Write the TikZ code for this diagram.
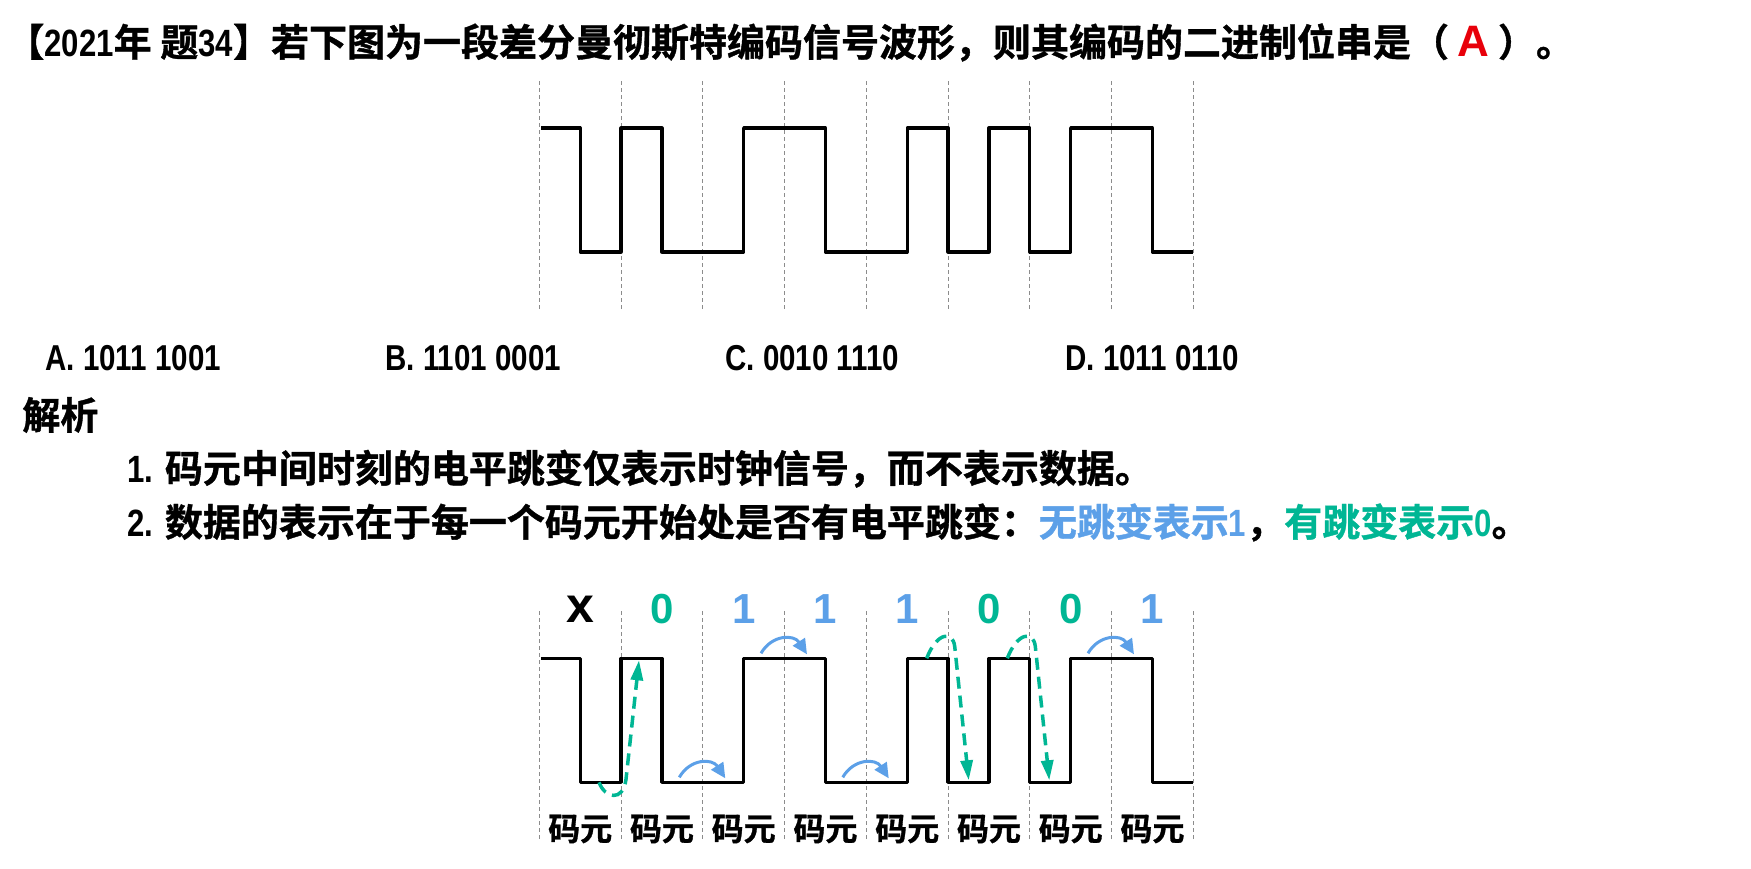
\documentclass[tikz,border=0pt]{standalone}
\usepackage{fontspec}
\setmainfont{Liberation Sans}
\newfontfamily\cjk{Noto Sans CJK SC Bold}[FakeBold=1]
\newfontfamily\lat{Liberation Sans Bold}[FakeStretch=0.82]
\newfontfamily\latw{Liberation Sans Bold}
\usetikzlibrary{arrows.meta}

\definecolor{zeroc}{RGB}{0,182,148}
\definecolor{onec}{RGB}{92,160,232}
\definecolor{ansred}{RGB}{232,0,10}
\definecolor{guidegray}{RGB}{140,140,140}

\tikzset{
  guide/.style = {guidegray, line width=0.5pt, dash pattern=on 2pt off 1.5pt},
  signal/.style = {line width=1.6pt, line join=round},
  wave/.pic = {
    \foreach \i in {0,...,8}
      \draw[guide] (81.75*\i,-47) -- (81.75*\i,184);
    \draw[signal] (2,0) -- (40.875,0) -- (40.875,124) -- (81.75,124) -- (81.75,0)
      -- (122.625,0) -- (122.625,124) -- (204.375,124) -- (204.375,0) -- (286.125,0)
      -- (286.125,124) -- (367.875,124) -- (367.875,0) -- (408.75,0) -- (408.75,124)
      -- (449.625,124) -- (449.625,0) -- (490.5,0) -- (490.5,124) -- (531.375,124)
      -- (531.375,0) -- (613.125,0) -- (613.125,124) -- (654,124);
  }
}

\begin{document}
\begin{tikzpicture}[x=0.5pt, y=-0.5pt,
    txt/.style = {anchor=west, inner sep=0pt, font={\cjk\fontsize{19pt}{22pt}\selectfont}},
    opt/.style = {anchor=west, inner sep=0pt, font={\lat\fontsize{18pt}{22pt}\selectfont}},
    bit/.style = {inner sep=0pt, font={\latw\fontsize{21pt}{24pt}\selectfont}},
    cell/.style = {inner sep=0pt, font={\cjk\fontsize{16pt}{18pt}\selectfont}},
    hop/.style = {onec, line width=1.5pt, -{Triangle[length=7.5pt, width=7pt]}},
    flip/.style = {zeroc, line width=1.75pt, dash pattern=on 6pt off 3.5pt,
                   -{Triangle[length=10pt, width=6pt]}}]
  \useasboundingbox[fill=white] (0,0) rectangle (1751,868);

  % question
  \node[txt] (title) at (6,42.5) {【{\lat 2021}年 题{\lat 34}】若下图为一段差分曼彻斯特编码信号波形，则其编码的二进制位串是（ {\latw\fontsize{22pt}{24pt}\selectfont\color{ansred}A} ）。};
  \pic at (539.3,128) {wave};

  \foreach \lab/\val [count=\k from 0] in {A/1011 1001, B/1101 0001, C/0010 1110, D/1011 0110}
    \node[opt] (opt\lab) at (45+340*\k,358) {\lab. \val};

  % analysis
  \node[txt] (jiexi) at (22,415) {解析};
  \node[txt] (note1) at (127,468.7) {{\lat 1. }码元中间时刻的电平跳变仅表示时钟信号，而不表示数据。};
  \node[txt] (note2) at (127,522.5) {{\lat 2. }数据的表示在于每一个码元开始处是否有电平跳变：{\color{onec}无跳变表示{\lat 1}}，{\color{zeroc}有跳变表示{\lat 0}}。};

  \pic at (539.3,658.3) {wave};
  \foreach \b/\c [count=\k from 0] in {{\fontsize{25pt}{26pt}\selectfont x}/black, 0/zeroc, 1/onec, 1/onec, 1/onec, 0/zeroc, 0/zeroc, 1/onec}
    \node[bit, text=\c] (bit\k) at (580.2+81.75*\k,609) {\b};
  \foreach \k in {0,...,7}
    \node[cell] (cell\k) at (580.2+81.75*\k,829) {码元};

  % no change at the start of the cell
  \foreach \bx/\by in {703.3/782.3, 785/658.3, 866.75/782.3, 1112/658.3}
    \draw[hop, shift={(\bx,\by)}] (-24,-5) .. controls (-13,-24) and (9,-24) .. (22,-4);
  % change at the start of the cell
  \draw[flip, shift={(621,782.3)}] (-22,0) .. controls (-16,16) and (2,20) .. (5,-3) -- (18,-122);
  \foreach \bx in {948.7, 1029.3}
    \draw[flip, shift={(\bx,658.3)}] (-22,0) .. controls (-12,-26) and (4,-28) .. (6,-12) -- (20,122);
\end{tikzpicture}
\end{document}
